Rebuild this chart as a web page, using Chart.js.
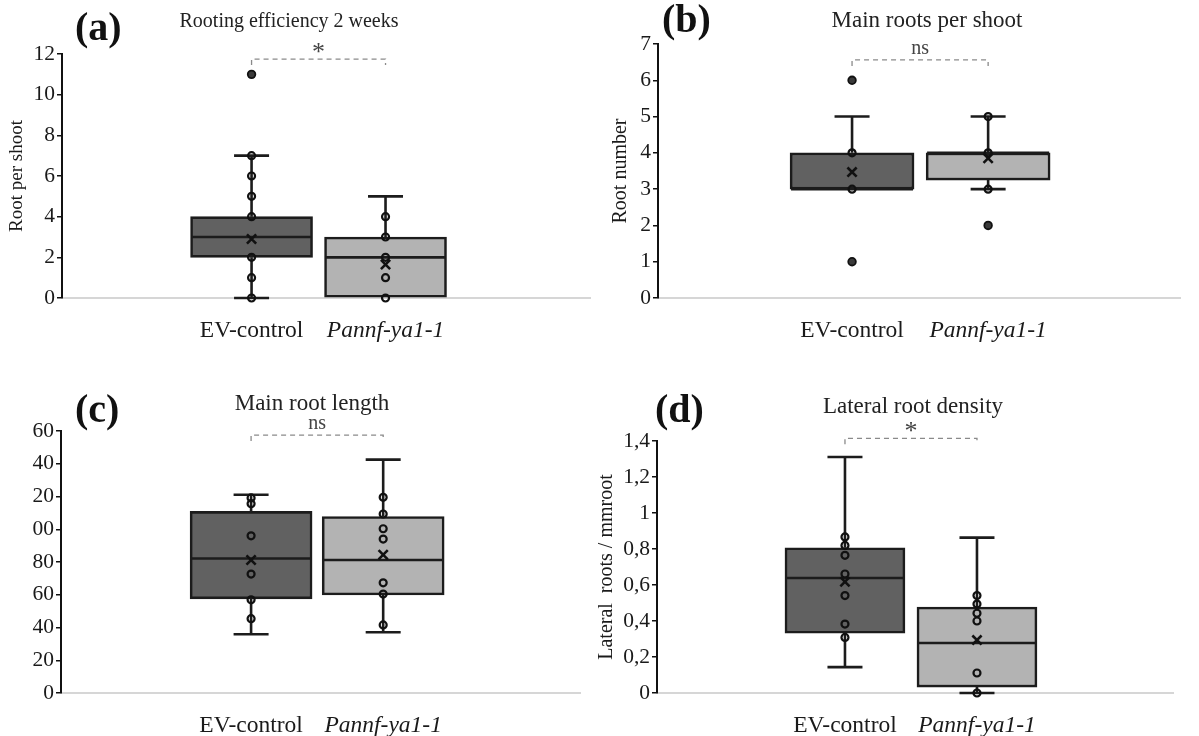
<!DOCTYPE html>
<html>
<head>
<meta charset="utf-8">
<script src="https://cdn.jsdelivr.net/npm/chart.js@4.4.1/dist/chart.umd.min.js"></script>
<style>
  html, body { margin: 0; padding: 0; background: #fff; }
  body { width: 1199px; height: 736px; position: relative; overflow: hidden; }
  .panel { position: absolute; }
</style>
</head>
<body>
<div class="panel" style="left:0;top:0;width:600px;height:345px"><canvas id="chart-a"></canvas></div>
<div class="panel" style="left:600px;top:0;width:599px;height:345px"><canvas id="chart-b"></canvas></div>
<div class="panel" style="left:0;top:360px;width:590px;height:376px"><canvas id="chart-c"></canvas></div>
<div class="panel" style="left:590px;top:360px;width:609px;height:376px"><canvas id="chart-d"></canvas></div>
<script>
var categories = ['EV-control', 'Pannf-ya1-1'];

// box stats per group: [lower whisker, Q1, median, Q3, upper whisker]

// (a) Rooting efficiency 2 weeks
var rootStats = [[0, 2, 3, 4, 7], [0, 0, 2, 3, 5]];
var rootMeans = [2.9, 1.65];
var rootPoints = [[0, 1, 2, 4, 5, 6, 7], [0, 1, 2, 3, 4]];
var rootOutliers = [[11], []];
var rootTicks = [0, 2, 4, 6, 8, 10, 12];
var rootTickLabels = ['0', '2', '4', '6', '8', '10', '12'];

// (b) Main roots per shoot
var mainStats = [[3, 3, 3, 4, 5], [3, 3.25, 4, 4, 5]];
var mainMeans = [3.47, 3.85];
var mainPoints = [[3, 4], [3, 4, 5]];
var mainOutliers = [[1, 6], [2]];
var mainTicks = [0, 1, 2, 3, 4, 5, 6, 7];
var mainTickLabels = ['0', '1', '2', '3', '4', '5', '6', '7'];

// (c) Main root length
var lengthStats = [[35.9, 57.5, 82.1, 110.9, 121.1], [37.1, 59.9, 81.2, 107.8, 142.5]];
var lengthMeans = [81.2, 84.4];
var lengthPoints = [[45.4, 56.9, 72.6, 96, 115.6, 119.1], [41.6, 60.4, 67.3, 94, 100.3, 109.3, 119.5]];
var lengthOutliers = [[], []];
var lengthTicks = [0, 20, 40, 60, 80, 100, 120, 140, 160];
var lengthTickLabels = ['0', '20', '40', '60', '80', '00', '20', '40', '60'];

// (d) Lateral root density
var densityStats = [[0.144, 0.332, 0.639, 0.807, 1.311], [0, 0.033, 0.278, 0.478, 0.863]];
var densityMeans = [0.618, 0.294];
var densityPoints = [[0.309, 0.383, 0.541, 0.661, 0.765, 0.82, 0.867], [0, 0.111, 0.4, 0.443, 0.494, 0.541]];
var densityOutliers = [[], []];
var densityTicks = [0, 0.2, 0.4, 0.6, 0.8, 1, 1.2, 1.4];
var densityTickLabels = ['0', '0,2', '0,4', '0,6', '0,8', '1', '1,2', '1,4'];

var SERIF = "'Liberation Serif', 'Times New Roman', serif";
Chart.defaults.font.family = SERIF;
Chart.defaults.color = '#222';

var boxColors = ['#616161', '#b3b3b3'];
var ink = '#1c1c1c';

// whiskers, caps and median lines, drawn right after the boxes
var boxParts = {
  id: 'boxParts',
  afterDatasetDraw: function(chart, args, opts) {
    if (args.index !== 0) return;
    var x = chart.scales.x, y = chart.scales.y, ctx = chart.ctx;
    var half = opts.boxWidth / 2, cap = opts.capWidth / 2;
    ctx.save();
    ctx.strokeStyle = ink;
    ctx.lineWidth = 2.6;
    opts.stats.forEach(function(s, i) {
      var cx = x.getPixelForValue(i + 1);
      ctx.beginPath();
      ctx.moveTo(cx - half + 1, y.getPixelForValue(s[2]));
      ctx.lineTo(cx + half - 1, y.getPixelForValue(s[2]));
      if (s[4] > s[3]) {
        ctx.moveTo(cx, y.getPixelForValue(s[3]));
        ctx.lineTo(cx, y.getPixelForValue(s[4]));
        ctx.moveTo(cx - cap, y.getPixelForValue(s[4]));
        ctx.lineTo(cx + cap, y.getPixelForValue(s[4]));
      }
      if (s[0] < s[1]) {
        ctx.moveTo(cx, y.getPixelForValue(s[1]));
        ctx.lineTo(cx, y.getPixelForValue(s[0]));
        ctx.moveTo(cx - cap, y.getPixelForValue(s[0]));
        ctx.lineTo(cx + cap, y.getPixelForValue(s[0]));
      }
      ctx.stroke();
    });
    ctx.restore();
  }
};

// panel letter, title and significance bracket
var decorations = {
  id: 'decorations',
  afterDraw: function(chart, args, opts) {
    var ctx = chart.ctx, x = chart.scales.x, y = chart.scales.y;
    ctx.save();
    ctx.fillStyle = '#111';
    ctx.textBaseline = 'middle';
    ctx.textAlign = 'left';
    ctx.font = 'bold 40px ' + SERIF;
    ctx.fillText(opts.tag, opts.tagX, opts.tagY);
    ctx.textAlign = 'center';
    ctx.fillStyle = '#222';
    ctx.font = opts.titleSize + 'px ' + SERIF;
    ctx.fillText(opts.title, opts.titleX, opts.titleY);

    var x1 = x.getPixelForValue(1), x2 = x.getPixelForValue(2);
    var by = y.getPixelForValue(opts.bracketY);
    ctx.strokeStyle = '#8a8a8a';
    ctx.lineWidth = 1.3;
    ctx.setLineDash([5, 4]);
    ctx.beginPath();
    ctx.moveTo(x1, by + 6);
    ctx.lineTo(x1, by);
    ctx.lineTo(x2, by);
    ctx.lineTo(x2, by + 6);
    ctx.stroke();
    ctx.setLineDash([]);

    ctx.fillStyle = '#444';
    ctx.font = (opts.sig === '*' ? 26 : 20) + 'px ' + SERIF;
    ctx.textBaseline = 'alphabetic';
    var m = ctx.measureText(opts.sig);
    var cy = by - 11;
    ctx.fillText(opts.sig, (x1 + x2) / 2, cy + (m.actualBoundingBoxAscent - m.actualBoundingBoxDescent) / 2);
    ctx.restore();
  }
};

function pointsOf(groups) {
  var out = [];
  groups.forEach(function(g, i) {
    g.forEach(function(v) { out.push({ x: i + 1, y: v }); });
  });
  return out;
}

function makePanel(id, d, look) {
  return new Chart(document.getElementById(id), {
    type: 'bar',
    data: {
      datasets: [{
        type: 'bar',
        data: d.stats.map(function(s, i) { return { x: i + 1, y: [s[1], s[3]] }; }),
        backgroundColor: boxColors,
        borderColor: ink,
        borderWidth: 2.6,
        borderSkipped: false,
        barThickness: look.boxWidth,
        clip: false,
        order: 3
      }, {
        type: 'scatter',
        data: pointsOf(d.points),
        pointRadius: 3.5,
        pointBorderWidth: 2.2,
        pointBorderColor: '#111',
        pointBackgroundColor: 'rgba(0,0,0,0)',
        clip: false,
        order: 1
      }, {
        type: 'scatter',
        data: pointsOf(d.outliers),
        pointRadius: 3.8,
        pointBorderWidth: 1.8,
        pointBorderColor: '#111',
        pointBackgroundColor: '#3a3a3a',
        clip: false,
        order: 1
      }, {
        type: 'scatter',
        data: d.means.map(function(v, i) { return { x: i + 1, y: v }; }),
        pointStyle: 'crossRot',
        pointRadius: 6.5,
        pointBorderWidth: 2.6,
        pointBorderColor: '#111',
        clip: false,
        order: 0
      }]
    },
    options: {
      responsive: true,
      maintainAspectRatio: false,
      animation: false,
      events: [],
      layout: { padding: { top: look.top, right: look.right, left: 0, bottom: 0 } },
      plugins: {
        legend: { display: false },
        tooltip: { enabled: false },
        boxParts: { stats: d.stats, boxWidth: look.boxWidth, capWidth: 35 },
        decorations: look.deco
      },
      scales: {
        x: {
          type: 'linear',
          offset: false,
          min: look.xMin,
          max: look.xMax,
          afterFit: function(scale) { scale.height = look.xHeight; },
          afterBuildTicks: function(scale) {
            scale.ticks = categories.map(function(c, i) { return { value: i + 1 }; });
          },
          grid: { display: false, offset: false },
          border: { display: true, color: '#d6d6d6', width: 2 },
          ticks: {
            padding: 11,
            color: '#1a1a1a',
            maxRotation: 0,
            autoSkip: false,
            font: function(ctx) {
              return { family: SERIF, size: 23.5, style: ctx.index === 1 ? 'italic' : 'normal' };
            },
            callback: function(value) { return categories[value - 1]; }
          }
        },
        y: {
          min: d.ticks[0],
          max: d.ticks[d.ticks.length - 1],
          afterFit: function(scale) { scale.width = look.yWidth; },
          afterBuildTicks: function(scale) {
            scale.ticks = d.ticks.map(function(v) { return { value: v }; });
          },
          grid: { display: true, drawOnChartArea: false, drawTicks: true, tickLength: 5, color: '#111', lineWidth: 1.5 },
          border: { display: true, color: '#111', width: 2 },
          ticks: {
            padding: 2,
            color: '#1a1a1a',
            font: { size: 21.5 },
            callback: function(value, index) { return d.tickLabels[index]; }
          },
          title: {
            display: !!look.yTitle,
            text: look.yTitle,
            color: '#1a1a1a',
            font: { size: look.yTitleSize },
            padding: { top: look.yTitlePad, bottom: 0 }
          }
        }
      }
    },
    plugins: [boxParts, decorations]
  });
}

makePanel('chart-a',
  { stats: rootStats, means: rootMeans, points: rootPoints, outliers: rootOutliers, ticks: rootTicks, tickLabels: rootTickLabels },
  { top: 54, right: 5, yWidth: 62, xHeight: 47, xMin: -0.415, xMax: 3.533, boxWidth: 122,
    yTitle: 'Root per shoot', yTitleSize: 19, yTitlePad: 6,
    deco: { tag: '(a)', tagX: 75, tagY: 30, title: 'Rooting efficiency 2 weeks', titleSize: 20, titleX: 289, titleY: 22, bracketY: 11.75, sig: '*' } });

makePanel('chart-b',
  { stats: mainStats, means: mainMeans, points: mainPoints, outliers: mainOutliers, ticks: mainTicks, tickLabels: mainTickLabels },
  { top: 44, right: 19, yWidth: 58, xHeight: 47, xMin: -0.426, xMax: 3.41, boxWidth: 124,
    yTitle: 'Root number', yTitleSize: 20, yTitlePad: 9,
    deco: { tag: '(b)', tagX: 62, tagY: 22, title: 'Main roots per shoot', titleSize: 23, titleX: 327, titleY: 21, bracketY: 6.56, sig: 'ns' } });

makePanel('chart-c',
  { stats: lengthStats, means: lengthMeans, points: lengthPoints, outliers: lengthOutliers, ticks: lengthTicks, tickLabels: lengthTickLabels },
  { top: 71, right: 10, yWidth: 61, xHeight: 43, xMin: -0.439, xMax: 3.49, boxWidth: 122,
    yTitle: '', yTitleSize: 20, yTitlePad: 0,
    deco: { tag: '(c)', tagX: 75, tagY: 52, title: 'Main root length', titleSize: 23, titleX: 312, titleY: 44, bracketY: 157.5, sig: 'ns' } });

makePanel('chart-d',
  { stats: densityStats, means: densityMeans, points: densityPoints, outliers: densityOutliers, ticks: densityTicks, tickLabels: densityTickLabels },
  { top: 81, right: 26, yWidth: 67, xHeight: 43, xMin: -0.424, xMax: 3.485, boxWidth: 120,
    yTitle: 'Lateral  roots / mmroot', yTitleSize: 20, yTitlePad: 5,
    deco: { tag: '(d)', tagX: 65, tagY: 52, title: 'Lateral root density', titleSize: 23, titleX: 323, titleY: 47, bracketY: 1.415, sig: '*' } });
</script>
</body>
</html>
